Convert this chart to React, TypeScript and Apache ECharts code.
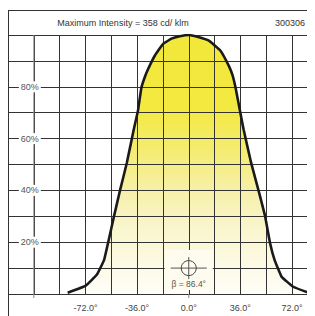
import React, { useEffect, useRef } from "react";
import * as echarts from "echarts";

// Photometric data (angle in degrees, relative intensity in %)
const angles = [-84.4, -72, -64, -59, -56.3, -52.1, -48.1, -43.2, -38.3, -35.4, -33, -30.5, -28.4, -23.7, -18, -12, -6.3, 0, 6, 14, 22, 28, 30.5, 32.6, 35.6, 38.2, 43.5, 48.8, 53.2, 56.7, 59.8, 64.7, 72.8, 84.4];
const intensities = [0.5, 3.1, 7.5, 13.2, 19.6, 30, 39.6, 50.6, 63.6, 70.8, 79.7, 84, 86.8, 92, 96.5, 98.6, 99.5, 100, 99.3, 97.8, 94, 88, 84.5, 79.7, 71, 63.6, 50.6, 39.6, 30, 19.6, 13.2, 6.7, 2.8, 0.3];

const xLabelValues = [-72, -36, 0, 36, 72];
const yLabelValues = [20, 40, 60, 80];
const maxIntensity = 358;
const codeLabel = "300306";
const beamAngle = 86.4;

const FONT = "'Liberation Sans', Arial, Helvetica, sans-serif";

export default function App() {
  const ref = useRef<HTMLDivElement>(null);

  useEffect(() => {
    document.documentElement.style.overflow = "hidden";
    document.body.style.overflow = "hidden";
    const chart = echarts.init(ref.current!, null, { renderer: "svg" });
    const data = angles.map((a, i) => [a, intensities[i]]);
    const gridH = 259;
    const xMin = -126;
    const xMax = 88;
    const W = 307;
    const pxPerDeg = W / (xMax - xMin);
    const cx = (0 - xMin) * pxPerDeg;
    const yAt = (v: number) => 27 + gridH * (1 - v / 100);
    const labelAxisX = (-108 - xMin) * pxPerDeg;
    const crossY = yAt(10);

    chart.setOption({
      animation: false,
      grid: { left: 0, width: W, top: 27, height: gridH, containLabel: false, outerBoundsMode: "none" },
      xAxis: {
        type: "value",
        min: xMin,
        max: xMax,
        interval: 18,
        z: 2,
        axisLine: { show: false },
        axisTick: { show: false },
        splitLine: { show: true, lineStyle: { color: "#333", width: 1 } },
        axisLabel: {
          margin: 9,
          fontSize: 9,
          color: "#444",
          fontFamily: FONT,
          formatter: (v: number) => (xLabelValues.includes(v) ? v.toFixed(1) + "°" : ""),
        },
      },
      yAxis: [
        {
          type: "value",
          min: 0,
          max: 100,
          interval: 10,
          z: 2,
          axisLine: { show: false },
          axisTick: { show: false },
          axisLabel: { show: false },
          splitLine: { show: true, lineStyle: { color: "#333", width: 1 } },
        },
        {
          type: "value",
          min: 0,
          max: 100,
          interval: 20,
          position: "left",
          offset: -labelAxisX,
          z: 5,
          axisLine: { show: false },
          axisTick: { show: false },
          splitLine: { show: false },
          axisLabel: {
            showMinLabel: false,
            showMaxLabel: false,
            align: "center",
            margin: 4,
            fontSize: 9,
            color: "#555",
            fontFamily: FONT,
            backgroundColor: "#fff",
            padding: [1, 2],
            formatter: (v: number) => (yLabelValues.includes(v) ? v + "%" : ""),
          },
        },
      ],
      series: [
        {
          type: "line",
          data,
          z: 1,
          smooth: 0.1,
          showSymbol: false,
          symbol: "none",
          lineStyle: { width: 0, opacity: 0 },
          areaStyle: {
            opacity: 1,
            color: new echarts.graphic.LinearGradient(0, 0, 0, 1, [
              { offset: 0, color: "#f2e83a" },
              { offset: 0.28, color: "#f3e940" },
              { offset: 0.44, color: "#f4ec70" },
              { offset: 0.6, color: "#f6f0a8" },
              { offset: 0.74, color: "#f9f5cc" },
              { offset: 0.92, color: "#fdfbea" },
              { offset: 1, color: "#fffef8" },
            ]),
          },
        },
        {
          type: "line",
          data,
          z: 3,
          smooth: 0.1,
          showSymbol: false,
          symbol: "none",
          lineStyle: { width: 2.6, color: "#1a1a1a" },
        },
      ],
      graphic: [
        // outer frame
        { type: "line", z: 6, shape: { x1: 0.5, y1: 2, x2: 0.5, y2: 310 }, style: { stroke: "#333", lineWidth: 1 } },
        { type: "line", z: 6, shape: { x1: 0, y1: 2.5, x2: 310, y2: 2.5 }, style: { stroke: "#333", lineWidth: 1 } },
        // grey label line
        { type: "line", z: 4, shape: { x1: labelAxisX, y1: 27, x2: labelAxisX, y2: 290 }, style: { stroke: "#888", lineWidth: 1 } },
        { type: "line", z: 4, shape: { x1: cx, y1: 286, x2: cx, y2: 290 }, style: { stroke: "#888", lineWidth: 1 } },
        // header texts
        {
          type: "text", z: 6, x: 115, y: 15,
          style: { text: `Maximum Intensity = ${maxIntensity} cd/ klm`, fill: "#333", fontSize: 9, fontFamily: FONT, align: "center", verticalAlign: "middle" },
        },
        {
          type: "text", z: 6, x: 282, y: 15,
          style: { text: codeLabel, fill: "#333", fontSize: 9, fontFamily: FONT, align: "center", verticalAlign: "middle" },
        },
        // beam symbol background
        { type: "rect", z: 4, shape: { x: cx - 24, y: crossY - 18, width: 48, height: 40 }, style: { fill: "#fefcee" } },
        { type: "line", z: 5, shape: { x1: cx - 18, y1: crossY, x2: cx + 18, y2: crossY }, style: { stroke: "#555", lineWidth: 1 } },
        { type: "line", z: 5, shape: { x1: cx, y1: crossY - 11, x2: cx, y2: crossY + 11 }, style: { stroke: "#555", lineWidth: 1 } },
        { type: "circle", z: 5, shape: { cx, cy: crossY, r: 7.5 }, style: { stroke: "#444", fill: "none", lineWidth: 1 } },
        {
          type: "text", z: 5, x: cx, y: crossY + 16,
          style: { text: `β = ${beamAngle}°`, fill: "#555", fontSize: 8.5, fontFamily: FONT, align: "center", verticalAlign: "middle" },
        },
      ],
    });
    return () => chart.dispose();
  }, []);

  return <div ref={ref} style={{ width: 307, height: 308 }} />;
}
